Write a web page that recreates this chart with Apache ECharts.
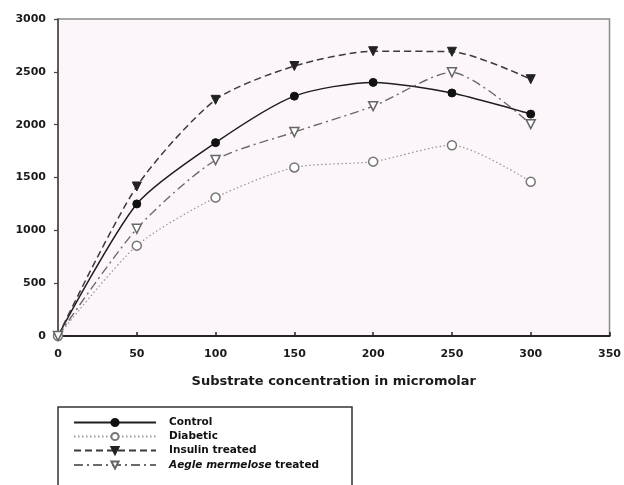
<!DOCTYPE html>
<html>
<head>
<meta charset="utf-8">
<script src="https://cdn.jsdelivr.net/npm/echarts@6/dist/echarts.min.js"></script>
<style>
  html, body { margin: 0; padding: 0; background: #ffffff; }
  #chart { width: 624px; height: 485px; }
</style>
</head>
<body>
<div id="chart"></div>
<script>
// Substrate concentration (micromolar)
const concentrations = [0, 50, 100, 150, 200, 250, 300];

// Enzyme activity per group
const control   = [0, 1250, 1830, 2270, 2400, 2300, 2100];
const diabetic  = [0, 855, 1310, 1595, 1650, 1805, 1460];
const insulin   = [0, 1415, 2235, 2555, 2695, 2690, 2430];
const aegle     = [0, 1015, 1665, 1930, 2175, 2495, 2005];

const seriesNames = ['Control', 'Diabetic', 'Insulin treated', 'Aegle mermelose treated'];

const yTicks = { min: 0, max: 3000, step: 500 };
const xTicks = { min: 0, max: 350, step: 50 };

const pairs = vals => concentrations.map((c, i) => [c, vals[i]]);

const FONT = 'DejaVu Sans';
const chart = echarts.init(document.getElementById('chart'), null, { renderer: 'canvas' });

chart.setOption({
  backgroundColor: '#ffffff',
  animation: false,
  grid: {
    left: 58, right: 14, top: 19, bottom: 149,
    show: true,
    backgroundColor: '#fcf6fa',
    borderColor: '#8a8a8a',
    borderWidth: 1.5
  },
  xAxis: {
    type: 'value',
    min: xTicks.min, max: xTicks.max, interval: xTicks.step,
    name: 'Substrate concentration in micromolar',
    nameLocation: 'middle',
    nameGap: 39,
    nameTextStyle: { fontFamily: FONT, fontWeight: 'bold', fontSize: 13, color: '#1a1a1a' },
    axisLine: { lineStyle: { color: '#222', width: 2 } },
    axisTick: { show: true, inside: true, length: 4, lineStyle: { color: '#222', width: 1.5 } },
    axisLabel: { fontFamily: FONT, fontWeight: 'bold', fontSize: 11, color: '#1a1a1a', margin: 13 },
    splitLine: { show: false }
  },
  yAxis: {
    type: 'value',
    min: yTicks.min, max: yTicks.max, interval: yTicks.step,
    axisLine: { show: true, lineStyle: { color: '#444', width: 1.5 } },
    axisTick: { show: true, length: 4, lineStyle: { color: '#444', width: 1.2 } },
    axisLabel: {
      fontFamily: FONT, fontWeight: 'bold', fontSize: 11, color: '#1a1a1a', margin: 12,
      formatter: v => String(v)
    },
    splitLine: { show: false }
  },
  legend: {
    orient: 'vertical',
    left: 68, top: 412,
    itemWidth: 82, itemHeight: 9, itemGap: 3,
    data: seriesNames,
    formatter: name => name === 'Aegle mermelose treated'
      ? '{i|Aegle mermelose} {n|treated}'
      : '{n|' + name + '}',
    textStyle: {
      padding: [0, 0, 0, 8],
      rich: {
        n: { fontFamily: FONT, fontWeight: 'bold', fontSize: 10.5, color: '#111' },
        i: { fontFamily: FONT, fontWeight: 'bold', fontStyle: 'italic', fontSize: 10.5, color: '#111' }
      }
    }
  },
  graphic: [{
    type: 'rect',
    shape: { x: 58, y: 407, width: 294, height: 100 },
    style: { fill: 'none', stroke: '#333', lineWidth: 1.5 },
    silent: true
  }],
  series: [
    {
      name: 'Control', type: 'line', data: pairs(control), smooth: 0.25,
      symbol: 'circle', symbolSize: 8,
      lineStyle: { color: '#1e1e1e', width: 1.5 },
      itemStyle: { color: '#111', borderColor: '#111', borderWidth: 1 }
    },
    {
      name: 'Diabetic', type: 'line', data: pairs(diabetic), smooth: 0.25,
      symbol: 'circle', symbolSize: 9,
      lineStyle: { color: '#9a9a9a', width: 1.3, type: [1.5, 2.5] },
      itemStyle: { color: '#ffffff', borderColor: '#777', borderWidth: 1.5 }
    },
    {
      name: 'Insulin treated', type: 'line', data: pairs(insulin), smooth: 0.25,
      symbol: 'triangle', symbolRotate: 180, symbolSize: 9,
      lineStyle: { color: '#3a3a3a', width: 1.5, type: [7, 4] },
      itemStyle: { color: '#222', borderColor: '#222', borderWidth: 1 }
    },
    {
      name: 'Aegle mermelose treated', type: 'line', data: pairs(aegle), smooth: 0.25,
      symbol: 'triangle', symbolRotate: 180, symbolSize: 9,
      lineStyle: { color: '#6a6a6a', width: 1.4, type: [9, 4, 2, 4] },
      itemStyle: { color: '#ffffff', borderColor: '#666', borderWidth: 1.5 }
    }
  ]
});
</script>
</body>
</html>
